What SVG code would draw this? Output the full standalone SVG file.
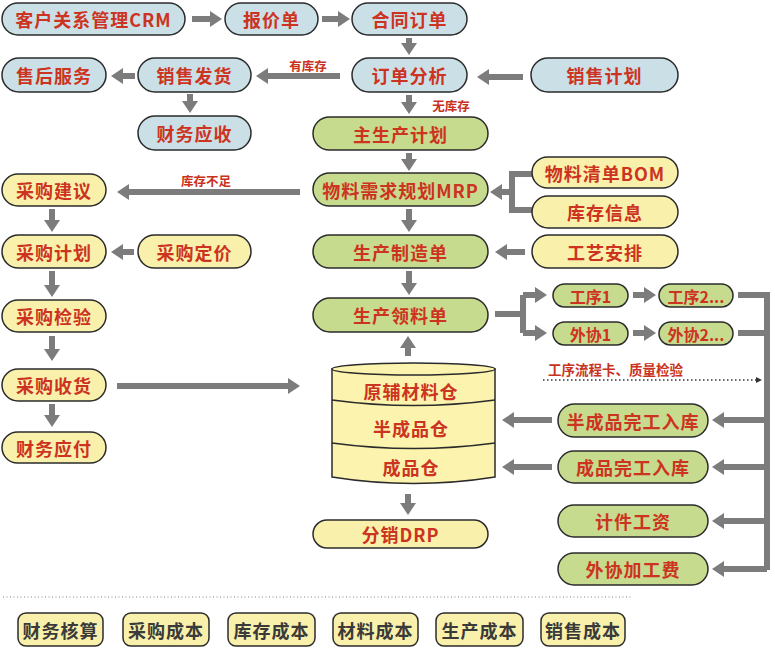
<svg xmlns="http://www.w3.org/2000/svg" width="775" height="651" viewBox="0 0 775 651">
<style>
.n{stroke:#2b2b2b;stroke-width:1.5}
.b{fill:#cbdfe7}
.g{fill:#c7db8e}
.y{fill:#f9f1ab}
.t{font-family:"Noto Sans CJK SC","Noto Sans",sans-serif;font-weight:bold;font-size:18px;fill:#cc3320;text-anchor:middle;dominant-baseline:central;letter-spacing:1px}
.m{font-size:16px;letter-spacing:0}
.s{font-family:"Noto Sans CJK SC","Noto Sans",sans-serif;font-weight:bold;font-size:12.5px;fill:#c8321e;dominant-baseline:central}
.k{font-family:"Noto Sans CJK SC","Noto Sans",sans-serif;font-weight:bold;font-size:18px;fill:#3a3a3a;text-anchor:middle;dominant-baseline:central;letter-spacing:1px}
.a{fill:none;stroke:#7c7c7c;stroke-width:6;marker-end:url(#ah)}
.l{fill:none;stroke:#7c7c7c;stroke-width:6}
.c{fill:#fbf3ae;stroke:#2b2b2b;stroke-width:1.5}
</style>
<defs>
<marker id="ah" markerUnits="userSpaceOnUse" markerWidth="12" markerHeight="16" refX="3" refY="8" orient="auto">
<path d="M0,0 L12,8 L0,16 z" fill="#7c7c7c"/>
</marker>
<marker id="sm" markerUnits="userSpaceOnUse" markerWidth="6" markerHeight="6" refX="1" refY="3" orient="auto">
<path d="M0,0 L6,3 L0,6 z" fill="#333"/>
</marker>
</defs>
<rect width="775" height="651" fill="#ffffff"/>

<g id="connectors">
<path class="a" d="M192,19 H213"/>
<path class="a" d="M322,19 H341"/>
<path class="a" d="M409,38 V46"/>
<path class="a" d="M340,76 H265"/>
<path class="a" d="M523,77 H486"/>
<path class="a" d="M135,76 H120"/>
<path class="a" d="M190,94 V104"/>
<path class="a" d="M409,95 V105"/>
<path class="a" d="M409,153 V162"/>
<path class="a" d="M300,192 H126"/>
<path class="a" d="M409,209 V223"/>
<path class="a" d="M409,271 V286"/>
<path class="a" d="M525,252 H504"/>
<path class="a" d="M134,252 H120"/>
<path class="a" d="M52,209 V223"/>
<path class="a" d="M52,271 V288"/>
<path class="a" d="M52,336 V352"/>
<path class="a" d="M52,404 V418"/>
<path class="a" d="M117,386 H291"/>
<path class="a" d="M408,356 V345"/>
<path class="a" d="M408,494 V506"/>
<path class="l" d="M532,174 H512 V210 H532"/>
<path class="a" d="M512,192 H499"/>
<path class="l" d="M495,314 H523"/>
<path class="l" d="M523,295 V333"/>
<path class="a" d="M523,295 H538"/>
<path class="a" d="M523,333 H538"/>
<path class="a" d="M633,295 H647"/>
<path class="a" d="M633,333 H647"/>
<path class="l" d="M738,295 H767 V570"/>
<path class="l" d="M738,333 H767"/>
<path class="a" d="M767,420 H721"/>
<path class="a" d="M767,467 H721"/>
<path class="a" d="M767,521 H721"/>
<path class="a" d="M767,569 H721"/>
<path class="a" d="M552,420 H511"/>
<path class="a" d="M552,467 H511"/>
<path d="M543,380 H757" stroke="#333" stroke-width="1.5" stroke-dasharray="1.5,2.5" fill="none" marker-end="url(#sm)"/>
<text class="s" x="308" y="65" text-anchor="middle">有库存</text>
<text class="s" x="451" y="105" text-anchor="middle">无库存</text>
<text class="s" x="206" y="180" text-anchor="middle">库存不足</text>
<text class="s" x="548" y="369" style="font-size:13.5px">工序流程卡、质量检验</text>
<path d="M3,597 H633" stroke="#888" stroke-width="1.2" stroke-dasharray="1,2.5" fill="none"/>
</g>

<g id="crm"><rect class="n b" x="2" y="3" width="183" height="32" rx="16"/><text class="t" x="93.5" y="19">客户关系管理CRM</text></g>
<g id="bjd"><rect class="n b" x="225" y="3" width="93" height="32" rx="16"/><text class="t" x="271.5" y="19">报价单</text></g>
<g id="htdd"><rect class="n b" x="352" y="3" width="115" height="32" rx="16"/><text class="t" x="409.5" y="19">合同订单</text></g>
<g id="shfw"><rect class="n b" x="2" y="58" width="104" height="34" rx="17"/><text class="t" x="54" y="75">售后服务</text></g>
<g id="xsfh"><rect class="n b" x="138" y="58" width="113" height="34" rx="17"/><text class="t" x="194.5" y="75">销售发货</text></g>
<g id="ddfx"><rect class="n b" x="352" y="58" width="115" height="34" rx="17"/><text class="t" x="409.5" y="75">订单分析</text></g>
<g id="xsjh"><rect class="n b" x="531" y="58" width="147" height="34" rx="17"/><text class="t" x="604.5" y="75">销售计划</text></g>
<g id="cwys"><rect class="n b" x="138" y="116" width="113" height="34" rx="17"/><text class="t" x="194.5" y="133">财务应收</text></g>

<g id="zscjh"><rect class="n g" x="313" y="117" width="175" height="33" rx="16.5"/><text class="t" x="400.5" y="133.5">主生产计划</text></g>
<g id="mrp"><rect class="n g" x="313" y="173" width="175" height="33" rx="16.5"/><text class="t" x="400.5" y="189.5">物料需求规划MRP</text></g>
<g id="sczzd"><rect class="n g" x="313" y="235" width="175" height="33" rx="16.5"/><text class="t" x="400.5" y="251.5">生产制造单</text></g>
<g id="sclld"><rect class="n g" x="313" y="298" width="175" height="34" rx="17"/><text class="t" x="400.5" y="315">生产领料单</text></g>
<g id="gx1"><rect class="n g" x="553" y="284" width="75" height="23" rx="11.5"/><text class="t m" x="590.5" y="295.5">工序1</text></g>
<g id="gx2"><rect class="n g" x="659" y="284" width="74" height="23" rx="11.5"/><text class="t m" x="696" y="295.5">工序2...</text></g>
<g id="wx1"><rect class="n g" x="553" y="322" width="75" height="23" rx="11.5"/><text class="t m" x="590.5" y="333.5">外协1</text></g>
<g id="wx2"><rect class="n g" x="659" y="322" width="74" height="23" rx="11.5"/><text class="t m" x="696" y="333.5">外协2...</text></g>
<g id="bcpwgrk"><rect class="n g" x="558" y="404" width="150" height="33" rx="16.5"/><text class="t" x="633" y="420.5">半成品完工入库</text></g>
<g id="cpwgrk"><rect class="n g" x="558" y="451" width="150" height="32" rx="16"/><text class="t" x="633" y="467">成品完工入库</text></g>
<g id="jjgz"><rect class="n g" x="558" y="505" width="150" height="32" rx="16"/><text class="t" x="633" y="521">计件工资</text></g>
<g id="wxjgf"><rect class="n g" x="558" y="553" width="150" height="32" rx="16"/><text class="t" x="633" y="569">外协加工费</text></g>

<g id="cgjy"><rect class="n y" x="2" y="174" width="104" height="32" rx="16"/><text class="t" x="54" y="190">采购建议</text></g>
<g id="cgjh"><rect class="n y" x="2" y="235" width="104" height="33" rx="16.5"/><text class="t" x="54" y="251.5">采购计划</text></g>
<g id="cgdj"><rect class="n y" x="138" y="235" width="113" height="33" rx="16.5"/><text class="t" x="194.5" y="251.5">采购定价</text></g>
<g id="cgjianyan"><rect class="n y" x="2" y="300" width="104" height="32" rx="16"/><text class="t" x="54" y="316">采购检验</text></g>
<g id="cgsh"><rect class="n y" x="2" y="369" width="104" height="32" rx="16"/><text class="t" x="54" y="385">采购收货</text></g>
<g id="cwyf"><rect class="n y" x="2" y="432" width="104" height="31" rx="15.5"/><text class="t" x="54" y="447.5">财务应付</text></g>
<g id="bom"><rect class="n y" x="532" y="157" width="146" height="31" rx="15.5"/><text class="t" x="605" y="172.5">物料清单BOM</text></g>
<g id="kcxx"><rect class="n y" x="532" y="196" width="146" height="32" rx="16"/><text class="t" x="605" y="212">库存信息</text></g>
<g id="gyap"><rect class="n y" x="532" y="235" width="146" height="33" rx="16.5"/><text class="t" x="605" y="251.5">工艺安排</text></g>
<g id="drp"><rect class="n y" x="313" y="520" width="175" height="28" rx="14"/><text class="t" x="400.5" y="534">分销DRP</text></g>

<g id="warehouse">
<path class="c" d="M332,369 V477 Q413.5,490 495,477 V369 Z"/>
<ellipse class="c" cx="413.5" cy="369" rx="81.5" ry="6"/>
<path d="M332,400 Q413.5,411 495,400 M332,443 Q413.5,454 495,443" fill="none" stroke="#2b2b2b" stroke-width="1.5"/>
<text class="t" x="411" y="391">原辅材料仓</text>
<text class="t" x="411" y="428">半成品仓</text>
<text class="t" x="411" y="467">成品仓</text>
</g>

<g id="cwhs"><rect class="n y" x="18" y="613" width="85" height="33" rx="8"/><text class="k" x="60.5" y="629.5">财务核算</text></g>
<g id="cgcb"><rect class="n y" x="123" y="613" width="86" height="33" rx="8"/><text class="k" x="166" y="629.5">采购成本</text></g>
<g id="kccb"><rect class="n y" x="228" y="613" width="87" height="33" rx="8"/><text class="k" x="271.5" y="629.5">库存成本</text></g>
<g id="clcb"><rect class="n y" x="333" y="613" width="85" height="33" rx="8"/><text class="k" x="375.5" y="629.5">材料成本</text></g>
<g id="sccb"><rect class="n y" x="436" y="613" width="87" height="33" rx="8"/><text class="k" x="479.5" y="629.5">生产成本</text></g>
<g id="xscb"><rect class="n y" x="541" y="613" width="84" height="33" rx="8"/><text class="k" x="583" y="629.5">销售成本</text></g>
</svg>
